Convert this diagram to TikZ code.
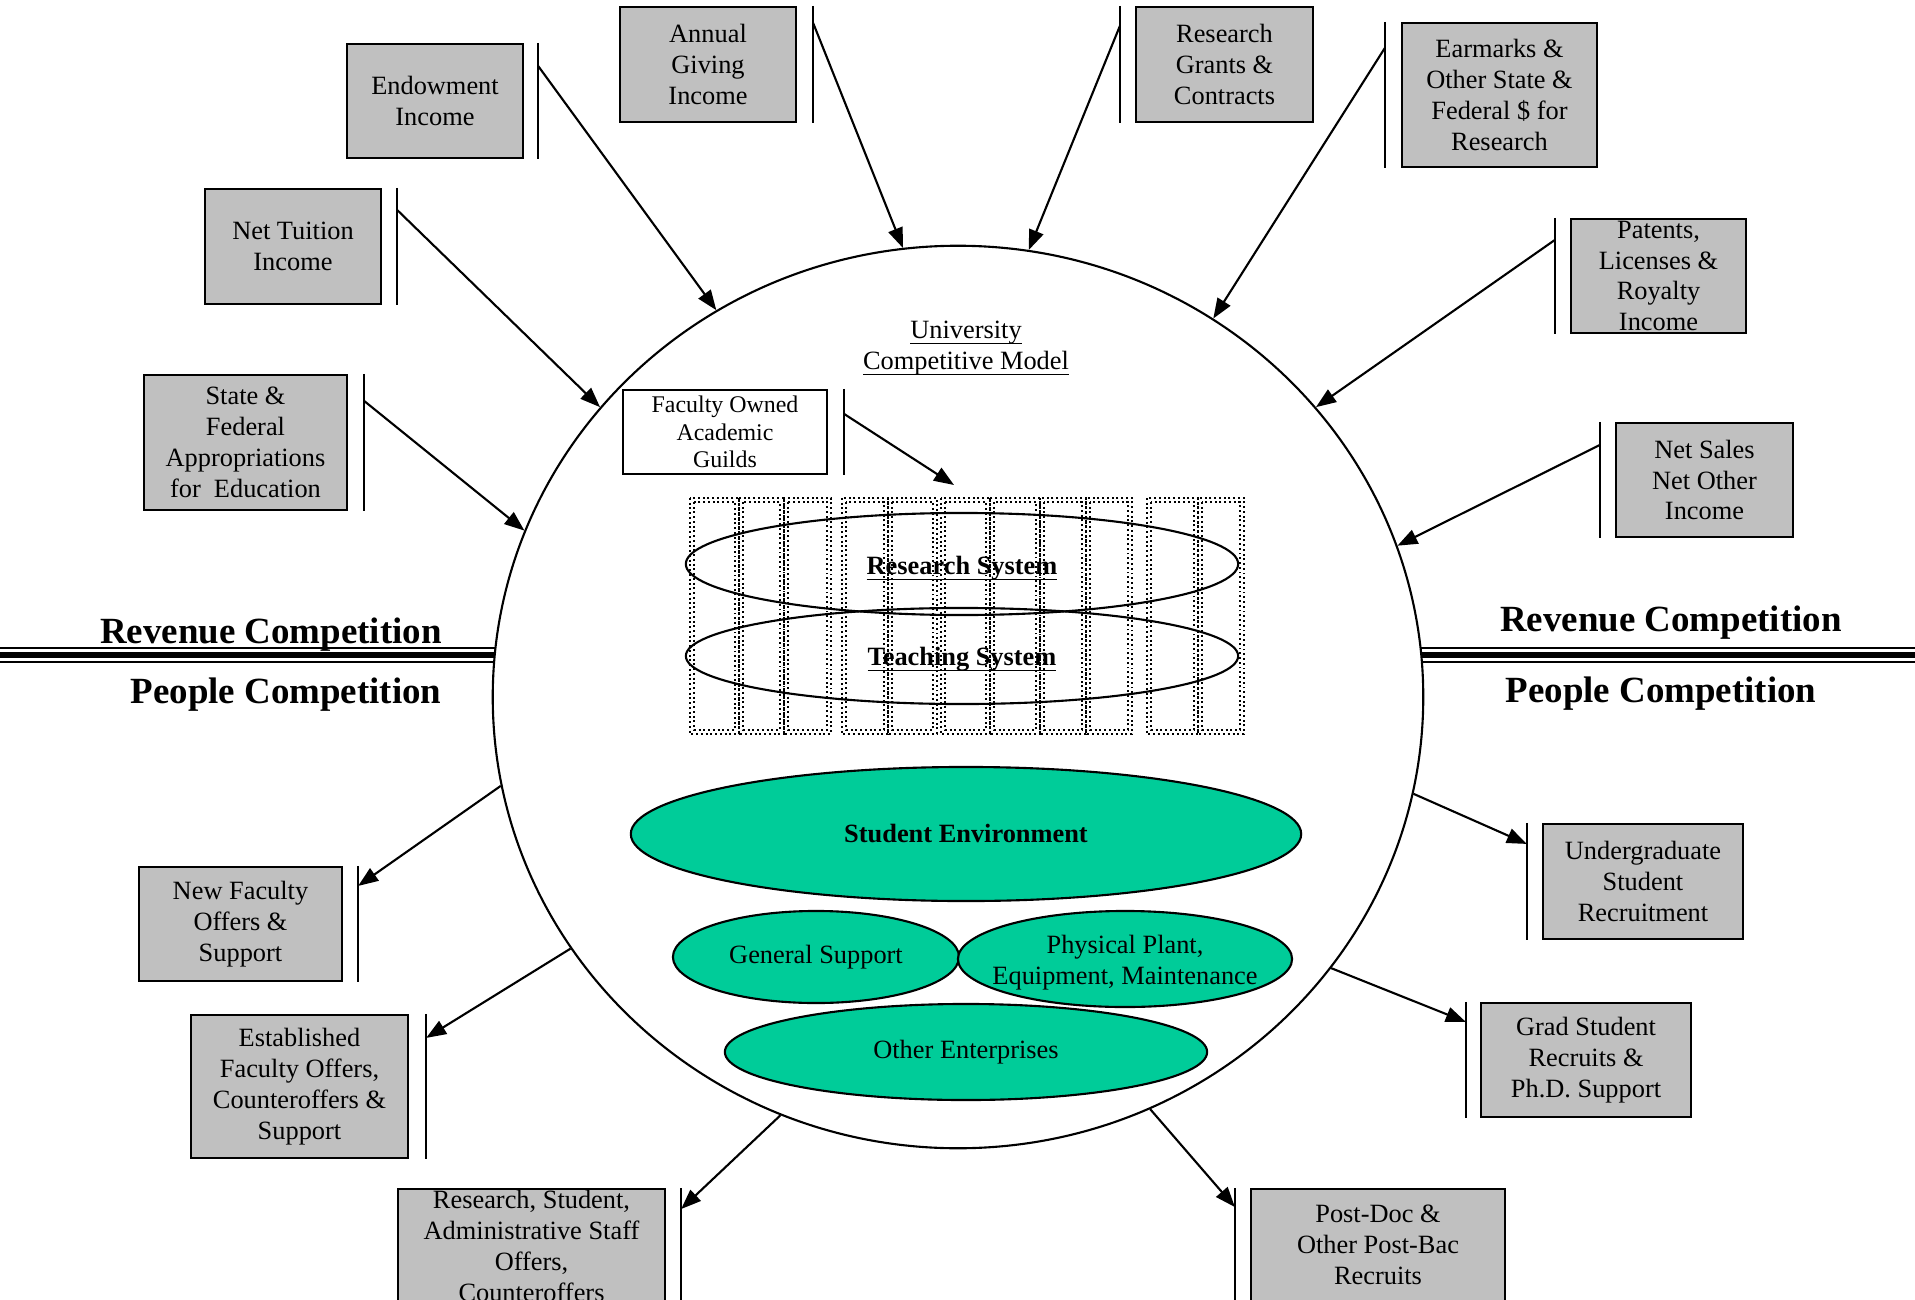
\documentclass[tikz,border=0pt]{standalone}
\usepackage{fontspec}
\setmainfont{Liberation Serif}
\usetikzlibrary{arrows.meta, positioning, shapes.geometric}

\definecolor{boxgray}{RGB}{192,192,192}
\definecolor{envgreen}{RGB}{0,204,153}
\newcommand{\calloutfont}{\fontsize{7.5pt}{8.8pt}\selectfont}
\newcommand{\guildfont}{\fontsize{6.8pt}{7.9pt}\selectfont}
\newcommand{\competefont}{\fontsize{10.5pt}{12pt}\selectfont\bfseries}
\newcommand{\bline}[1]{\underline{\raisebox{0pt}[\height][0pt]{#1}}}

\begin{document}
\begin{tikzpicture}[x=0.01cm, y=-0.01cm,
    box/.style={draw, rectangle, fill=boxgray, line width=0.6pt, inner sep=0pt, align=center, font=\calloutfont},
    bar/.style={line width=0.6pt},
    arrow/.style={-{Triangle[length=0.2cm, width=0.15cm]}, line width=0.6pt},
    guild/.style={dash pattern=on 0.55pt off 0.8pt, line width=0.55pt},
    system/.style={draw, ellipse, line width=0.6pt, inner sep=0pt},
    env/.style={draw, ellipse, fill=envgreen, line width=0.6pt, inner sep=0pt},
    lbl/.style={align=center, inner sep=0pt, font=\calloutfont},
    compete/.style={font=\competefont, anchor=base}]
    \useasboundingbox (0,0) rectangle (1915,1300);
    \clip (0,0) rectangle (1915,1300);

    % University model
    \node (univ) [draw, ellipse, line width=0.6pt, minimum width=9.30cm, minimum height=9.02cm] at (958,697) {};
    \node (title) [lbl] at (966,349) {\bline{University}\\\bline{Competitive Model}};

    % Faculty guilds
    \foreach \xa/\xb in {690/739, 739/784, 784/831, 842/888, 888/937, 941/990, 990/1040, 1040/1086, 1086/1132, 1147/1198, 1198/1244} {
        \draw[guild] (\xa,498) rectangle (\xb,734);
        \draw[guild] (\xa+4,502) rectangle (\xb-4,730);
    }
    \node (guild) [draw, rectangle, fill=white, line width=0.6pt, minimum width=2.04cm, minimum height=0.84cm, inner sep=0pt, align=center, font=\guildfont] at (725,432) {Faculty Owned\\Academic\\Guilds};
    \coordinate (guildtip) at (954,485);
    \draw[bar] ([xshift=0.16cm]guild.north east) -- ([xshift=0.16cm]guild.south east);
    \draw[arrow] ([xshift=0.16cm, yshift=-0.25cm]guild.north east) -- (guildtip);

    % Research and teaching systems
    \node (research) [system, minimum width=5.52cm, minimum height=1.02cm] at (962,564) {};
    \node (teaching) [system, minimum width=5.52cm, minimum height=0.96cm] at (962,656) {};
    \node (researchlbl) [lbl, font=\calloutfont\bfseries] at (962,569) {\bline{Research System}};
    \node (teachinglbl) [lbl, font=\calloutfont\bfseries] at (962,660) {\bline{Teaching System}};

    % Student environment
    \node (stuenv) [env, minimum width=6.70cm, minimum height=1.34cm] at (966,834) {};
    \node (gensup) [env, minimum width=2.86cm, minimum height=0.92cm] at (816,957) {};
    \node (plant) [env, minimum width=3.34cm, minimum height=0.96cm] at (1125,959) {};
    \node (otherent) [env, minimum width=4.82cm, minimum height=0.96cm] at (966,1052) {};
    \node (stuenvlbl) [lbl, font=\calloutfont\bfseries] at (stuenv) {Student Environment};
    \node (gensuplbl) [lbl] at (gensup) {General Support};
    \node (plantlbl) [lbl] at ([yshift=-0.04cm]plant.center) {Physical Plant,\\Equipment, Maintenance};
    \node (otherentlbl) [lbl] at (otherent) {Other Enterprises};

    % Competition lines
    \draw[line width=0.6pt] (0,648) -- (495,648);
    \draw[line width=1.45pt] (0,655) -- (495,655);
    \draw[line width=0.6pt] (0,662) -- (495,662);
    \draw[line width=0.6pt] (1421,648) -- (1915,648);
    \draw[line width=1.45pt] (1421,655) -- (1915,655);
    \draw[line width=0.6pt] (1421,662) -- (1915,662);
    \node (revleft) [compete] at (271,643) {Revenue Competition};
    \node (pplleft) [compete] at (286,703) {People Competition};
    \node (revright) [compete] at (1671,631) {Revenue Competition};
    \node (pplright) [compete] at (1661,702) {People Competition};

    % Revenue sources
    \node (endow) [box, minimum width=1.76cm, minimum height=1.14cm] at (435,101) {Endowment\\Income};
    \node (annual) [box, minimum width=1.76cm, minimum height=1.15cm] at (708,64.5) {Annual\\Giving\\Income};
    \node (grants) [box, minimum width=1.77cm, minimum height=1.15cm] at (1224.5,64.5) {Research\\Grants \&\\Contracts};
    \node (earmark) [box, minimum width=1.95cm, minimum height=1.44cm] at (1499.5,95) {Earmarks \&\\Other State \&\\Federal \$ for\\Research};
    \node (patents) [box, minimum width=1.75cm, minimum height=1.14cm] at (1658.5,276) {Patents,\\Licenses \&\\Royalty\\Income};
    \node (netsales) [box, minimum width=1.77cm, minimum height=1.14cm] at (1704.5,480) {Net Sales\\Net Other\\Income};
    \node (tuition) [box, minimum width=1.76cm, minimum height=1.15cm] at (293,246.5) {Net Tuition\\Income};
    \node (state) [box, minimum width=2.03cm, minimum height=1.35cm] at (245.5,442.5) {State \&\\Federal\\Appropriations\\for~ Education};

    \draw[bar] ([xshift=0.14cm]endow.north east) -- ([xshift=0.14cm]endow.south east);
    \draw[arrow] ([xshift=0.14cm, yshift=-0.23cm]endow.north east) -- (univ.122);
    \draw[bar] ([xshift=0.16cm]annual.north east) -- ([xshift=0.16cm]annual.south east);
    \draw[arrow] ([xshift=0.16cm, yshift=-0.17cm]annual.north east) -- (univ.97);
    \draw[bar] ([xshift=-0.15cm]grants.north west) -- ([xshift=-0.15cm]grants.south west);
    \draw[arrow] ([xshift=-0.15cm, yshift=-0.20cm]grants.north west) -- (univ.81);
    \draw[bar] ([xshift=-0.16cm]earmark.north west) -- ([xshift=-0.16cm]earmark.south west);
    \draw[arrow] ([xshift=-0.16cm, yshift=-0.26cm]earmark.north west) -- (univ.56);
    \draw[bar] ([xshift=-0.15cm]patents.north west) -- ([xshift=-0.15cm]patents.south west);
    \draw[arrow] ([xshift=-0.15cm, yshift=-0.22cm]patents.north west) -- (univ.39);
    \draw[bar] ([xshift=-0.15cm]netsales.north west) -- ([xshift=-0.15cm]netsales.south west);
    \draw[arrow] ([xshift=-0.15cm, yshift=-0.23cm]netsales.north west) -- (univ.19);
    \draw[bar] ([xshift=0.15cm]tuition.north east) -- ([xshift=0.15cm]tuition.south east);
    \draw[arrow] ([xshift=0.15cm, yshift=-0.22cm]tuition.north east) -- (univ.141);
    \draw[bar] ([xshift=0.16cm]state.north east) -- ([xshift=0.16cm]state.south east);
    \draw[arrow] ([xshift=0.16cm, yshift=-0.27cm]state.north east) -- (univ.159);

    % People recruits
    \node (newfac) [box, minimum width=2.03cm, minimum height=1.14cm] at (240.5,924) {New Faculty\\Offers \&\\Support};
    \node (estfac) [box, minimum width=2.17cm, minimum height=1.43cm] at (299.5,1086.5) {Established\\Faculty Offers,\\Counteroffers \&\\Support};
    \node (staff) [box, anchor=north, minimum width=2.67cm, inner ysep=0.01cm] at (531.5,1188) {Research, Student,\\Administrative Staff\\Offers,\\Counteroffers};
    \node (postdoc) [box, anchor=north, minimum width=2.54cm, inner ysep=0.16cm] at (1378,1188) {Post-Doc \&\\Other Post-Bac\\Recruits};
    \node (undergrad) [box, minimum width=2.00cm, minimum height=1.15cm] at (1643,881.5) {Undergraduate\\Student\\Recruitment};
    \node (grad) [box, minimum width=2.10cm, minimum height=1.14cm] at (1586,1060) {Grad Student\\Recruits \&\\Ph.D. Support};

    \draw[bar] ([xshift=0.15cm]newfac.north east) -- ([xshift=0.15cm]newfac.south east);
    \draw[arrow] (univ.191) -- ([xshift=0.15cm, yshift=-0.20cm]newfac.north east);
    \draw[bar] ([xshift=0.17cm]estfac.north east) -- ([xshift=0.17cm]estfac.south east);
    \draw[arrow] (univ.213) -- ([xshift=0.17cm, yshift=-0.24cm]estfac.north east);
    \draw[bar] ([xshift=0.15cm]staff.north east) -- ([xshift=0.15cm]staff.south east);
    \draw[arrow] (univ.247) -- ([xshift=0.15cm, yshift=-0.21cm]staff.north east);
    \draw[bar] ([xshift=-0.15cm]postdoc.north west) -- ([xshift=-0.15cm]postdoc.south west);
    \draw[arrow] (univ.295) -- ([xshift=-0.15cm, yshift=-0.19cm]postdoc.north west);
    \draw[bar] ([xshift=-0.15cm]undergrad.north west) -- ([xshift=-0.15cm]undergrad.south west);
    \draw[arrow] (univ.348) -- ([xshift=-0.15cm, yshift=-0.21cm]undergrad.north west);
    \draw[bar] ([xshift=-0.14cm]grad.north west) -- ([xshift=-0.14cm]grad.south west);
    \draw[arrow] (univ.324) -- ([xshift=-0.14cm, yshift=-0.20cm]grad.north west);
\end{tikzpicture}
\end{document}
